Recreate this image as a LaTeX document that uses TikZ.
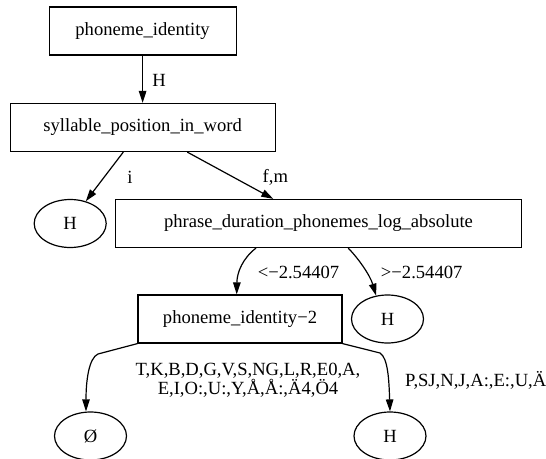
\documentclass[tikz,border=0pt]{standalone}
\usepackage{fontspec}
\setmainfont{Liberation Serif}
\usepackage{tikz}
\usetikzlibrary{arrows.meta, shapes.geometric, positioning}

\begin{document}
\begin{tikzpicture}[
  x=1pt, y=-1pt,
  test/.style={
    draw, line width=1.2pt, rectangle, minimum height=48pt,
    font=\fontsize{18.6}{20}\selectfont, inner sep=2pt
  },
  leaf/.style={
    draw, line width=1.2pt, ellipse, minimum width=72pt, minimum height=48pt,
    font=\fontsize{18.6}{20}\selectfont, inner sep=0pt
  },
  arrow/.style={-{Triangle[length=12pt, width=7.5pt]}, line width=1.2pt},
  label/.style={font=\fontsize{18.6}{16.5}\selectfont, inner sep=1pt},
]
\useasboundingbox (0,0) rectangle (546,458);

% Root
\node[test, minimum width=187pt] (pid) at (142.6,31) {phoneme\_identity};

% Level 1
\node[test, minimum width=265pt] (spw) at (142.6,127.5) {syllable\_position\_in\_word};

% Level 2
\node[leaf] (hi) at (70.2,223.5) {H};
\node[test, minimum width=405.6pt] (pda) at (318.5,223.5) {phrase\_duration\_phonemes\_log\_absolute};

% Level 3
\node[test, minimum width=204pt] (pidb) at (240,319) {phoneme\_identity−2};
\node[leaf] (hgt) at (387.5,319) {H};

% Level 4
\node[leaf] (empty) at (90.5,436) {Ø};
\node[leaf] (hpsj) at (390,436) {H};

% Arrows
\draw[arrow] (pid) -- (spw);
\node[label] (lh) at (159,80) {H};

\draw[arrow] ([xshift=-19.3pt]spw.south) -- (hi.55);
\node[label] (li) at (130,177) {i};

\draw[arrow] ([xshift=44.7pt]spw.south) -- ([xshift=-45.2pt]pda.north);
\node[label] (lfm) at (275.4,177) {f,m};

\draw[arrow] ([xshift=-62.5pt]pda.south) .. controls (243,258) and (237,272) .. ([xshift=-3.3pt]pidb.north);
\node[label] (llt) at (298.5,272) {<−2.54407};

\draw[arrow] ([xshift=29.7pt]pda.south) .. controls (358,258) and (370,275) .. (hgt.116);
\node[label] (lgt) at (421.7,272) {>−2.54407};

\draw[arrow] (pidb.south west) -- (98,354) .. controls (89,358) and (86,380) .. ([xshift=-4.5pt]empty.north);
\node[label, align=center] (lset) at (248,380) {T,K,B,D,G,V,S,NG,L,R,E0,A,\\E,I,O:,U:,Y,Å,Å:,Ä4,Ö4};

\draw[arrow] (pidb.south east) -- (380,353) .. controls (388,358) and (389,380) .. (hpsj.north);
\node[label, anchor=west] (lpsj) at (404,380) {P,SJ,N,J,A:,E:,U,Ä};

\end{tikzpicture}
\end{document}
